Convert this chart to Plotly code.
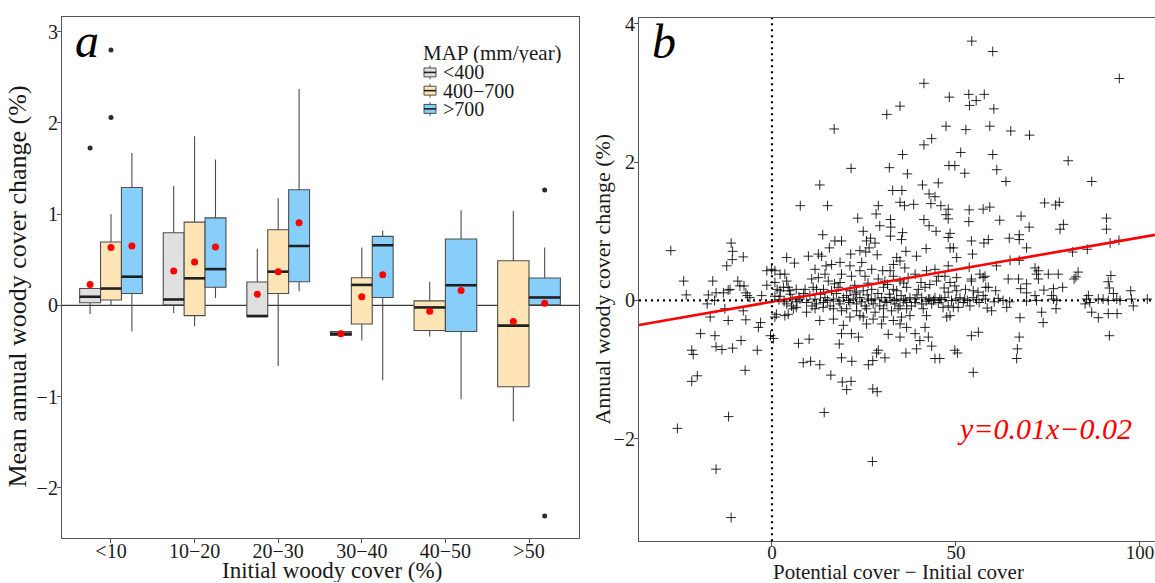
import plotly.graph_objects as go

FONT = "Liberation Serif"
W, H = 1155, 583

# ---------------- Panel a data ----------------
categories = ["<10", "10−20", "20−30", "30−40", "40−50", ">50"]
map_classes = ["<400", "400−700", ">700"]
class_colors = ["#E0E0E0", "#FFE4B5", "#87CEFA"]
legend_title = "MAP (mm/year)"

box_q1 = [
    [0.03, 0.008, -0.123, -0.33, None, None],
    [0.06, -0.112, 0.13, -0.203, -0.275, -0.891],
    [0.13, 0.20, 0.26, 0.087, -0.286, 0.007],
]
box_median = [
    [0.095, 0.065, -0.116, -0.31, None, None],
    [0.185, 0.297, 0.37, 0.225, -0.022, -0.221],
    [0.315, 0.398, 0.652, 0.659, 0.221, 0.087],
]
box_q3 = [
    [0.185, 0.797, 0.257, -0.286, None, None],
    [0.696, 0.913, 0.83, 0.304, 0.05, 0.489],
    [1.293, 0.96, 1.268, 0.757, 0.728, 0.301],
]
box_lower = [
    [-0.095, -0.083, -0.125, -0.33, None, None],
    [0.0, -0.228, -0.663, -0.384, -0.34, -1.272],
    [-0.286, 0.08, 0.156, -0.82, -1.03, 0.0],
]
box_upper = [
    [0.19, 1.31, 0.62, -0.286, None, None],
    [1.0, 1.855, 1.174, 0.634, 0.26, 1.036],
    [1.67, 1.60, 2.373, 0.82, 1.043, 0.634],
]
box_mean = [
    [0.23, 0.377, 0.123, -0.31, None, None],
    [0.634, 0.475, 0.37, 0.094, -0.065, -0.177],
    [0.652, 0.641, 0.906, 0.337, 0.163, 0.025],
]
outlier_category = [0, 0, 0, 5, 5]
outlier_class = [0, 1, 1, 2, 2]
outlier_value = [1.725, 2.80, 2.06, 1.264, -2.308]

# ---------------- Panel b data ----------------
# (potential cover - initial cover, annual woody cover change %)
scatter_points = [
    # left / near zero
    (-27.5, 0.72), (-11.1, 0.83), (-10.7, 0.71), (-10.8, 0.59), (-12.3, 0.50), (-7.8, 0.63),
    (-24.0, 0.28), (-16.1, 0.28), (-23.3, 0.08), (-17.3, 0.08), (-15.2, 0.11), (-13.2, 0.11),
    (-11.9, 0.15), (-11.4, 0.16), (-9.3, 0.28), (-8.7, 0.21), (-7.6, 0.21), (-7.1, 0.11),
    (-6.7, 0.07), (-6.0, 0.04), (-2.8, 0.07), (-17.6, -0.05), (-15.6, 0.0), (-12.8, -0.12),
    (-16.8, -0.24), (-11.9, -0.29), (-7.8, -0.15), (-7.1, -0.28), (-3.1, -0.32), (-3.7, -0.39),
    (-19.4, -0.48), (-15.5, -0.51), (-8.4, -0.58), (-15.2, -0.67), (-13.6, -0.71), (-10.7, -0.69),
    (-21.8, -0.72), (-4.0, -0.72), (-0.4, -0.51), (0.4, -0.55),
    (-1.4, 0.43), (-0.1, 0.45), (0.8, 0.43), (2.2, 0.38), (3.5, 0.38), (4.0, 0.62), (6.1, 0.54),
    (-1.4, 0.22), (0.8, 0.26), (1.4, 0.16), (2.2, 0.14), (3.1, 0.19), (4.0, 0.28), (4.4, 0.19),
    (4.8, 0.14), (6.6, 0.16), (0.8, 0.06), (2.2, 0.06), (5.5, 0.02), (6.8, -0.02), (7.3, 0.05),
    (4.0, -0.05), (5.3, -0.08), (5.8, -0.12), (6.6, -0.10), (4.4, -0.20), (3.5, -0.22),
    (1.2, -0.20), (0.8, -0.24), (7.2, -0.62), (1.9, 0.01), (3.3, -0.02), (5.0, 0.09),
    # low values
    (-25.7, -1.85), (-15.2, -2.44), (-11.1, -3.14), (-11.8, -1.68), (-21.8, -1.17), (-20.3, -1.09),
    (-21.4, -0.78), (-7.3, -1.01), (8.5, -0.90), (10.5, -0.88), (13.0, -0.93), (16.0, -1.08),
    (14.2, -1.62), (18.9, -0.83), (21.7, -0.88), (19.1, -1.18), (20.3, -1.29), (21.5, -1.17),
    (27.3, -2.33), (26.2, -0.93), (27.4, -0.87), (27.4, -1.28), (28.6, -1.32), (54.7, -1.04),
    (66.5, -0.84), (28.4, -0.76), (30.7, -0.83), (36.4, -0.76), (44.3, -0.84), (45.6, -0.84),
    (50.4, -0.76),
    # high values
    (54.3, 3.75), (60.0, 3.60), (94.4, 3.21), (41.3, 3.14), (48.2, 2.94), (53.5, 2.98),
    (57.7, 2.98), (53.7, 2.82), (55.5, 2.89), (34.8, 2.81), (31.2, 2.69), (60.3, 2.77),
    (47.3, 2.52), (52.7, 2.47), (59.2, 2.52), (64.9, 2.45), (70.0, 2.39), (41.3, 2.25),
    (43.4, 2.34), (35.5, 2.11), (51.3, 2.14), (60.0, 2.11), (80.5, 2.02), (31.9, 1.92),
    (48.1, 1.95), (49.7, 1.95), (36.8, 1.83), (52.4, 1.84), (61.1, 1.89), (86.9, 1.72),
    (63.6, 1.72), (40.9, 1.67), (45.2, 1.70), (32.8, 1.59), (35.3, 1.59), (42.7, 1.54),
    (44.3, 1.50), (34.8, 1.42), (36.0, 1.37), (38.5, 1.39), (43.2, 1.40), (45.9, 1.37),
    (47.9, 1.32), (53.6, 1.31), (57.4, 1.32), (59.2, 1.35), (74.1, 1.41), (77.1, 1.38),
    (78.1, 1.42), (32.2, 1.17), (41.3, 1.17), (47.3, 1.24), (47.9, 1.18), (53.5, 1.14),
    (61.9, 1.16), (67.7, 1.22), (90.9, 1.19), (79.2, 1.10), (69.9, 1.06), (29.3, 1.08),
    (32.3, 1.06), (42.7, 1.08), (16.9, 2.48), (21.5, 1.91), (13.0, 1.67), (7.7, 1.37),
    (15.1, 1.37), (28.9, 1.37), (28.3, 1.25), (23.3, 1.19),
    # central band 8-43
    (13.8, 0.95), (24.8, 1.00), (26.8, 0.90), (25.7, 0.86), (28.0, 0.83), (26.4, 0.76),
    (32.2, 0.93), (35.5, 0.98), (35.2, 0.88), (17.1, 0.86), (18.9, 0.86), (15.6, 0.76),
    (21.4, 0.67), (23.9, 0.72), (25.5, 0.70), (28.6, 0.66), (36.4, 0.71), (41.9, 0.75),
    (39.3, 0.64), (33.9, 0.62), (34.8, 0.57), (9.9, 0.64), (12.6, 0.67), (13.5, 0.64),
    (18.5, 0.55), (16.2, 0.52), (14.7, 0.50), (21.2, 0.50), (24.4, 0.55), (27.1, 0.45),
    (23.9, 0.43), (30.1, 0.43), (32.1, 0.43), (33.0, 0.52), (36.1, 0.47), (11.7, 0.45),
    (14.4, 0.38), (18.9, 0.38), (21.6, 0.35), (25.3, 0.35),
    (10.8, 0.31), (12.6, 0.33), (15.3, 0.28), (18.5, 0.26), (28.9, 0.31), (30.7, 0.28),
    (33.0, 0.35), (34.8, 0.28), (37.0, 0.33), (38.9, 0.38), (42.0, 0.43),
    (9.0, 0.16), (11.2, 0.19), (12.1, 0.16), (14.0, 0.16), (16.2, 0.14), (18.0, 0.19),
    (21.2, 0.14), (23.0, 0.12), (24.8, 0.14), (27.1, 0.16), (30.3, 0.19), (33.0, 0.16),
    (33.9, 0.14), (36.6, 0.19), (39.8, 0.16), (41.6, 0.19),
    (7.6, 0.02), (10.3, 0.07), (11.7, 0.02), (14.4, 0.04), (16.7, 0.02), (19.4, 0.04),
    (20.3, 0.07), (22.1, 0.02), (23.9, 0.04), (26.2, 0.02), (28.0, 0.02), (29.8, 0.04),
    (32.1, 0.04), (33.9, 0.02), (35.7, 0.00), (37.5, 0.04), (38.9, 0.02), (40.7, 0.04),
    (42.5, 0.02),
    (9.4, -0.03), (12.1, -0.05), (14.0, -0.03), (15.8, -0.08), (18.5, -0.05), (21.2, -0.03),
    (23.0, -0.05), (25.3, -0.08), (27.5, -0.05), (29.3, -0.08), (31.2, -0.03), (33.4, -0.05),
    (34.8, -0.08), (36.6, -0.03), (38.9, -0.03), (40.7, -0.05),
    (9.4, -0.17), (11.7, -0.12), (13.9, -0.10), (16.7, -0.12), (18.9, -0.15), (20.3, -0.12),
    (23.0, -0.15), (25.7, -0.12), (28.0, -0.17), (30.3, -0.12), (32.5, -0.15), (34.3, -0.12),
    (36.6, -0.12), (41.1, -0.12),
    (13.0, -0.29), (16.7, -0.27), (21.2, -0.24), (23.9, -0.22), (24.8, -0.24), (27.5, -0.27),
    (30.3, -0.24), (33.0, -0.29), (35.2, -0.24), (37.5, -0.22), (42.0, -0.22),
    (19.4, -0.36), (25.7, -0.34), (29.8, -0.34), (34.8, -0.34), (36.6, -0.39), (41.6, -0.39),
    (18.9, -0.48), (21.6, -0.48), (23.5, -0.53), (31.6, -0.49), (34.8, -0.53), (38.9, -0.48),
    (42.5, -0.53), (10.1, -0.56), (18.3, -0.63), (40.2, -0.58), (28.9, -0.72), (39.3, -0.70),
    # extra points in the packed band around zero (8-43)
    (8.6, 0.10), (10.9, -0.08), (13.2, 0.09), (15.1, 0.00), (17.5, 0.10), (18.2, -0.01),
    (20.8, 0.00), (22.6, 0.09), (24.4, -0.02), (25.9, 0.08), (27.0, 0.00), (28.8, 0.10),
    (30.7, -0.01), (31.9, 0.09), (33.2, 0.00), (35.1, 0.07), (36.2, 0.02), (37.9, -0.08),
    (39.4, 0.08), (41.9, -0.01), (17.0, 0.24), (22.5, 0.22), (26.1, 0.25), (31.4, 0.23),
    (35.8, 0.25), (40.5, 0.26),
    # central band 43-73
    (44.6, 1.00), (48.4, 0.97), (47.9, 0.91), (54.2, 0.86), (57.6, 0.83), (58.8, 0.88),
    (64.5, 0.90), (67.2, 0.95), (67.2, 0.88), (48.4, 0.76), (49.3, 0.76), (54.5, 0.67),
    (69.2, 0.76), (50.2, 0.62), (64.7, 0.58), (67.2, 0.58), (44.3, 0.45), (47.9, 0.50),
    (53.6, 0.48), (61.0, 0.50), (71.5, 0.47), (72.4, 0.43), (71.9, 0.38), (75.1, 0.38),
    (77.8, 0.38),
    (45.2, 0.35), (47.0, 0.35), (50.2, 0.33), (54.2, 0.31), (56.5, 0.38), (57.4, 0.33),
    (57.9, 0.35), (64.2, 0.31), (67.0, 0.31), (69.2, 0.24), (72.4, 0.31),
    (42.9, 0.23), (44.7, 0.28), (48.4, 0.26), (49.7, 0.21), (54.2, 0.28), (58.1, 0.19),
    (58.8, 0.19), (67.6, 0.17), (69.2, 0.11),
    (42.9, 0.02), (44.3, 0.04), (45.6, 0.02), (47.0, 0.04), (47.9, 0.12), (50.2, 0.14),
    (51.1, 0.04), (52.4, 0.02), (54.7, 0.14), (54.7, 0.04), (57.4, 0.07),
    (43.4, -0.05), (45.2, -0.03), (46.5, -0.10), (47.9, -0.08), (49.3, -0.10), (50.6, -0.10),
    (52.0, -0.03), (53.8, -0.08), (58.5, -0.11), (59.7, -0.15), (63.8, -0.10), (69.2, -0.01),
    (71.5, 0.07), (71.9, 0.00), (47.5, -0.24), (48.4, -0.22), (67.4, -0.25),
    (54.2, -0.51), (56.1, -0.46), (67.2, -0.53), (66.7, -0.70), (49.7, -0.72), (43.4, -0.66),
    # extra points in the packed band around zero (43-66)
    (43.9, 0.00), (46.0, 0.01), (48.8, 0.00), (50.0, 0.02), (53.1, 0.00), (55.6, 0.01),
    (56.3, -0.03), (58.0, 0.02), (60.4, -0.02), (61.5, 0.03), (62.8, 0.00), (64.6, -0.02),
    (46.8, 0.18), (52.6, 0.16), (56.0, 0.12), (60.8, 0.14),
    # right part
    (78.3, 1.03), (90.9, 1.03), (91.9, 0.83), (94.3, 0.87), (81.7, 0.70), (85.7, 0.74),
    (83.2, 0.41), (82.6, 0.34), (82.1, 0.31), (92.1, 0.36), (91.4, 0.27), (91.7, 0.18),
    (92.8, 0.10), (97.5, 0.14), (98.2, -0.08), (73.9, 0.15), (76.5, 0.17), (79.0, 0.19),
    (76.0, 0.07), (76.5, 0.02), (77.4, 0.00), (86.0, 0.07), (85.5, 0.02), (85.1, -0.05),
    (86.4, -0.03), (88.7, 0.02), (90.0, 0.02), (91.4, 0.00), (93.7, 0.02), (94.6, 0.00),
    (97.7, 0.02), (102.0, 0.02), (73.3, -0.17), (73.7, -0.32), (77.2, -0.12), (86.9, -0.17),
    (88.7, -0.25), (91.4, -0.19), (93.8, -0.19), (91.7, -0.51),
]
fit_slope = 0.0093
fit_intercept = -0.019
fit_label = "y=0.01x−0.02"

# ---------------- Build figure ----------------
fig = go.Figure()

DODGE = 0.75
positions = {}
for ci in range(len(categories)):
    present = [g for g in range(len(map_classes)) if box_median[g][ci] is not None]
    w = DODGE / len(present)
    for k, g in enumerate(present):
        positions[(g, ci)] = (ci - DODGE / 2 + w * (k + 0.5), w)

BOX_LINE = "#4D4D4D"
for g, cls in enumerate(map_classes):
    for ci in range(len(categories)):
        if (g, ci) not in positions:
            continue
        xpos, w = positions[(g, ci)]
        fig.add_trace(go.Box(
            x=[xpos], q1=[box_q1[g][ci]], median=[box_median[g][ci]], q3=[box_q3[g][ci]],
            lowerfence=[box_lower[g][ci]], upperfence=[box_upper[g][ci]],
            width=w, fillcolor=class_colors[g], line=dict(color=BOX_LINE, width=1.1),
            whiskerwidth=0, boxpoints=False, name=cls, showlegend=False,
            xaxis="x", yaxis="y", hoverinfo="skip",
        ))

# thick median lines
for g in range(len(map_classes)):
    mx, my = [], []
    for ci in range(len(categories)):
        if (g, ci) not in positions:
            continue
        xpos, w = positions[(g, ci)]
        mx += [xpos - w / 2, xpos + w / 2, None]
        my += [box_median[g][ci], box_median[g][ci], None]
    fig.add_trace(go.Scatter(x=mx, y=my, mode="lines", line=dict(color="#1F1F1F", width=2.6),
                             showlegend=False, xaxis="x", yaxis="y", hoverinfo="skip"))

# outliers
fig.add_trace(go.Scatter(
    x=[positions[(g, c)][0] for g, c in zip(outlier_class, outlier_category)],
    y=outlier_value, mode="markers", marker=dict(color="#2B2B2B", size=5),
    showlegend=False, xaxis="x", yaxis="y", hoverinfo="skip"))

# means
mean_x, mean_y = [], []
for g in range(len(map_classes)):
    for ci in range(len(categories)):
        if (g, ci) in positions:
            mean_x.append(positions[(g, ci)][0])
            mean_y.append(box_mean[g][ci])
fig.add_trace(go.Scatter(x=mean_x, y=mean_y, mode="markers",
                         marker=dict(color="#FF0000", size=7),
                         showlegend=False, xaxis="x", yaxis="y", hoverinfo="skip"))

# panel b scatter
bx = [p[0] for p in scatter_points]
by = [p[1] for p in scatter_points]
fig.add_trace(go.Scatter(
    x=bx, y=by, mode="markers",
    marker=dict(symbol="cross-thin", size=7, line=dict(width=1.0, color="rgba(0,0,0,0.85)")),
    showlegend=False, xaxis="x2", yaxis="y2", hoverinfo="skip"))

XB_RANGE = [-36.14, 104.1]
fig.add_trace(go.Scatter(
    x=XB_RANGE, y=[fit_slope * v + fit_intercept for v in XB_RANGE], mode="lines",
    line=dict(color="#FF0000", width=2.6), showlegend=False, xaxis="x2", yaxis="y2",
    hoverinfo="skip"))

# reference lines
shapes = [
    dict(type="line", xref="x domain", yref="y", x0=0, x1=1, y0=0, y1=0,
         line=dict(color="#3A3A3A", width=1.1), layer="below"),
    dict(type="line", xref="x2", yref="y2 domain", x0=0, x1=0, y0=0, y1=1,
         line=dict(color="black", width=2.2, dash="2px,4px"), layer="above"),
    dict(type="line", xref="x2 domain", yref="y2", x0=0, x1=1, y0=0, y1=0,
         line=dict(color="black", width=2.2, dash="2px,4px"), layer="above"),
]

annotations = [
    dict(text="<i>a</i>", x=87 / W, y=1 - 36 / H),
    dict(text="<i>b</i>", x=664 / W, y=1 - 37 / H),
]
for a in annotations:
    a.update(xref="paper", yref="paper", xanchor="center", yanchor="middle",
             showarrow=False, font=dict(family=FONT, size=48, color="black"))

title_specs = [
    ("Mean annual woody cover change (%)", 18, 284, -90, 26),
    ("Initial woody cover (%)", 332, 570, 0, 23),
    ("Annual woody cover change (%)", 603, 277, -90, 22),
    ("Potential cover − Initial cover", 898, 571, 0, 21),
]
for text, px, py, ang, size in title_specs:
    annotations.append(dict(text=text, x=px / W, y=1 - py / H, xref="paper", yref="paper",
                            xanchor="center", yanchor="middle", textangle=ang,
                            height=size if ang == 0 else None,
                            showarrow=False, font=dict(family=FONT, size=size, color="#1A1A1A")))

annotations.append(dict(text="<i>" + fit_label + "</i>", x=74.2, y=-1.85, xref="x2", yref="y2",
                        xanchor="center", yanchor="middle", showarrow=False,
                        font=dict(family=FONT, size=30, color="#FF0000")))

# manual legend (box glyphs)
LEG_X, LEG_TITLE_Y, LEG_Y0, LEG_DY = 421, 48, 68, 18.4
annotations.append(dict(text=legend_title, x=LEG_X / W, y=1 - LEG_TITLE_Y / H, xref="paper",
                        yref="paper", xanchor="left", yanchor="middle", showarrow=False,
                        height=20, font=dict(family=FONT, size=21, color="#1A1A1A")))
for g, cls in enumerate(map_classes):
    cy = LEG_Y0 + g * LEG_DY
    x0, x1, xc = 424, 436, 430
    shapes.append(dict(type="line", xref="paper", yref="paper", x0=xc / W, x1=xc / W,
                       y0=1 - (cy - 7) / H, y1=1 - (cy + 7) / H,
                       line=dict(color=BOX_LINE, width=1)))
    shapes.append(dict(type="rect", xref="paper", yref="paper", x0=x0 / W, x1=x1 / W,
                       y0=1 - (cy - 4.5) / H, y1=1 - (cy + 4.5) / H,
                       fillcolor=class_colors[g], line=dict(color=BOX_LINE, width=1)))
    shapes.append(dict(type="line", xref="paper", yref="paper", x0=x0 / W, x1=x1 / W,
                       y0=1 - cy / H, y1=1 - cy / H, line=dict(color="#1F1F1F", width=1.6)))
    annotations.append(dict(text=cls, x=441 / W, y=1 - cy / H, xref="paper", yref="paper",
                            xanchor="left", yanchor="middle", showarrow=False, height=18,
                            font=dict(family=FONT, size=20, color="#1A1A1A")))

axis_common = dict(showgrid=False, zeroline=False, showline=True, linecolor="#555555",
                   linewidth=1.2, ticks="outside", ticklen=4, tickcolor="#555555")

fig.update_layout(
    width=W, height=H, margin=dict(l=0, r=0, t=0, b=0),
    plot_bgcolor="white", paper_bgcolor="white",
    font=dict(family=FONT, size=18, color="#1A1A1A"),
    shapes=shapes, annotations=annotations, showlegend=False,
    xaxis=dict(domain=[62 / W, 579 / W], range=[-0.586, 5.598], tickvals=list(range(6)),
               ticktext=categories, mirror=True, anchor="y", ticklabelstandoff=-9,
               tickfont=dict(family=FONT, size=20, color="#1A1A1A"), **axis_common),
    yaxis=dict(domain=[1 - 538 / H, 1 - 12 / H], range=[-2.554, 3.163],
               tickvals=[-2, -1, 0, 1, 2, 3], mirror=True, anchor="x", ticklabelstandoff=-5,
               tickfont=dict(family=FONT, size=20, color="#1A1A1A"), **axis_common),
    xaxis2=dict(domain=[639 / W, 1.0], range=XB_RANGE, tickvals=[0, 50, 100],
                mirror=True, anchor="y2", ticklabelstandoff=-10,
                tickfont=dict(family=FONT, size=19, color="#1A1A1A"), **axis_common),
    yaxis2=dict(domain=[1 - 541 / H, 1 - 13 / H], range=[-3.484, 4.086],
                tickvals=[-2, 0, 2, 4], mirror=False, anchor="x2", ticklabelstandoff=-5,
                tickfont=dict(family=FONT, size=20, color="#1A1A1A"), **axis_common),
)

fig.write_html("out.html", config={"displayModeBar": False},
               post_script="document.body.style.margin='0px';document.body.style.overflow='hidden';")
